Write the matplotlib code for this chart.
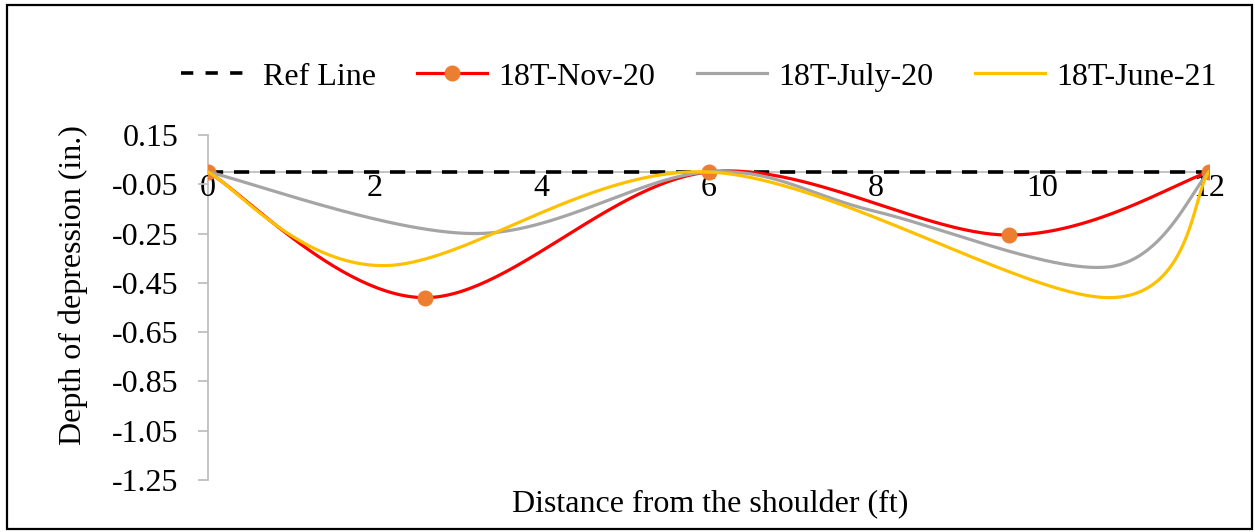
import numpy as np
import matplotlib
matplotlib.use("Agg")
import matplotlib.pyplot as plt
from matplotlib.lines import Line2D
from matplotlib.patches import Rectangle

plt.rcParams["font.family"] = ["Liberation Serif", "DejaVu Serif"]

# Measured transverse profiles (distance in ft, depth in inches)
ref_x = [0, 12]
ref_y = [0.0, 0.0]

nov20_x = [0, 2.6, 6, 9.6, 12]
nov20_y = [0.0, -0.51, 0.0, -0.256, 0.0]

july20_x = [0, 3.2, 6, 8, 10.8, 12]
july20_y = [0.0, -0.25, 0.0, -0.16, -0.385, 0.0]

june21_x = [0, 2.1, 6, 10.8, 12]
june21_y = [0.0, -0.38, 0.0, -0.51, 0.0]

x_ticks = [0, 2, 4, 6, 8, 10, 12]
y_ticks = [0.15, -0.05, -0.25, -0.45, -0.65, -0.85, -1.05, -1.25]


def smooth(xs, ys, n=60):
    """Smoothed line through the points using cubic Bezier segments
    with Catmull-Rom style control points."""
    p = np.column_stack([xs, ys]).astype(float)
    m = len(p)
    out = []
    for i in range(m - 1):
        p0 = p[i]
        p3 = p[i + 1]
        prev = p[i - 1] if i > 0 else p[i]
        nxt = p[i + 2] if i + 2 < m else p[i + 1]
        c1 = p0 + (p3 - prev) / 6.0
        c2 = p3 - (nxt - p0) / 6.0
        t = np.linspace(0, 1, n)[:, None]
        seg = ((1 - t) ** 3) * p0 + 3 * ((1 - t) ** 2) * t * c1 \
            + 3 * (1 - t) * t ** 2 * c2 + t ** 3 * p3
        if i > 0:
            seg = seg[1:]
        out.append(seg)
    arr = np.vstack(out)
    return arr[:, 0], arr[:, 1]


W, H = 1255, 532
FS = 23
fig = plt.figure(figsize=(W / 100, H / 100), dpi=100)
ax = fig.add_axes([208 / W, 52 / H, (1209 - 208) / W, (480 - 135) / H])

axis_grey = "#BFBFBF"
lw = 2.3

# reference line
ax.plot(ref_x, ref_y, color="black", lw=2.6, dashes=(4.2, 3.0),
        dash_capstyle="butt", zorder=3, label="Ref Line")

sx, sy = smooth(nov20_x, nov20_y)
ax.plot(sx, sy, color="#FF0000", lw=lw, zorder=4)
ax.plot(nov20_x, nov20_y, ls="none", marker="o", ms=10.5,
        color="#ED7D31", zorder=4.1)

sx, sy = smooth(july20_x, july20_y)
ax.plot(sx, sy, color="#A5A5A5", lw=lw, zorder=5)

sx, sy = smooth(june21_x, june21_y)
ax.plot(sx, sy, color="#FFC000", lw=lw, zorder=6)

ax.set_xlim(0, 12)
ax.set_ylim(-1.25, 0.15)

for s in ["top", "right"]:
    ax.spines[s].set_visible(False)
ax.spines["left"].set_color(axis_grey)
ax.spines["left"].set_linewidth(1.3)
ax.spines["bottom"].set_color(axis_grey)
ax.spines["bottom"].set_linewidth(1.3)
ax.spines["bottom"].set_position(("data", 0))
ax.spines["left"].set_zorder(1)
ax.spines["bottom"].set_zorder(1)

ax.set_yticks(y_ticks)
ax.set_yticklabels([f"{v:.2f}" for v in y_ticks])
ax.set_xticks(x_ticks)
ax.set_xticklabels([str(v) for v in x_ticks])
ax.tick_params(axis="y", direction="out", length=7.2, width=1.3,
               color=axis_grey, pad=14, labelsize=FS)
ax.tick_params(axis="x", length=0, pad=1.5, labelsize=FS)
ax.patch.set_visible(False)

fig.text(73 / W, 1 - 285 / H, "Depth of depression (in.)", rotation=90,
         ha="center", va="center", fontsize=FS)
fig.text(710 / W, 1 - 505 / H, "Distance from the shoulder (ft)",
         ha="center", va="center", fontsize=FS)

handles = [
    Line2D([], [], color="black", lw=2.6, dashes=(3.4, 3.4)),
    Line2D([], [], color="#FF0000", lw=lw, marker="o", ms=10.5,
           markerfacecolor="#ED7D31", markeredgecolor="#ED7D31"),
    Line2D([], [], color="#A5A5A5", lw=lw),
    Line2D([], [], color="#FFC000", lw=lw),
]
labels = ["Ref Line", "18T-Nov-20", "18T-July-20", "18T-June-21"]
fig.legend(handles, labels, loc="center", bbox_to_anchor=(699 / W, 1 - 77 / H),
           ncol=4, frameon=False, fontsize=FS, handlelength=2.2,
           handletextpad=0.35, columnspacing=1.3)

# chart border
fig.patches.append(Rectangle((7 / W, 3 / H), (1252 - 7) / W, (527 - 3) / H,
                             transform=fig.transFigure, fill=False,
                             edgecolor="black", lw=1.6))

fig.savefig("out.png", dpi=100)
